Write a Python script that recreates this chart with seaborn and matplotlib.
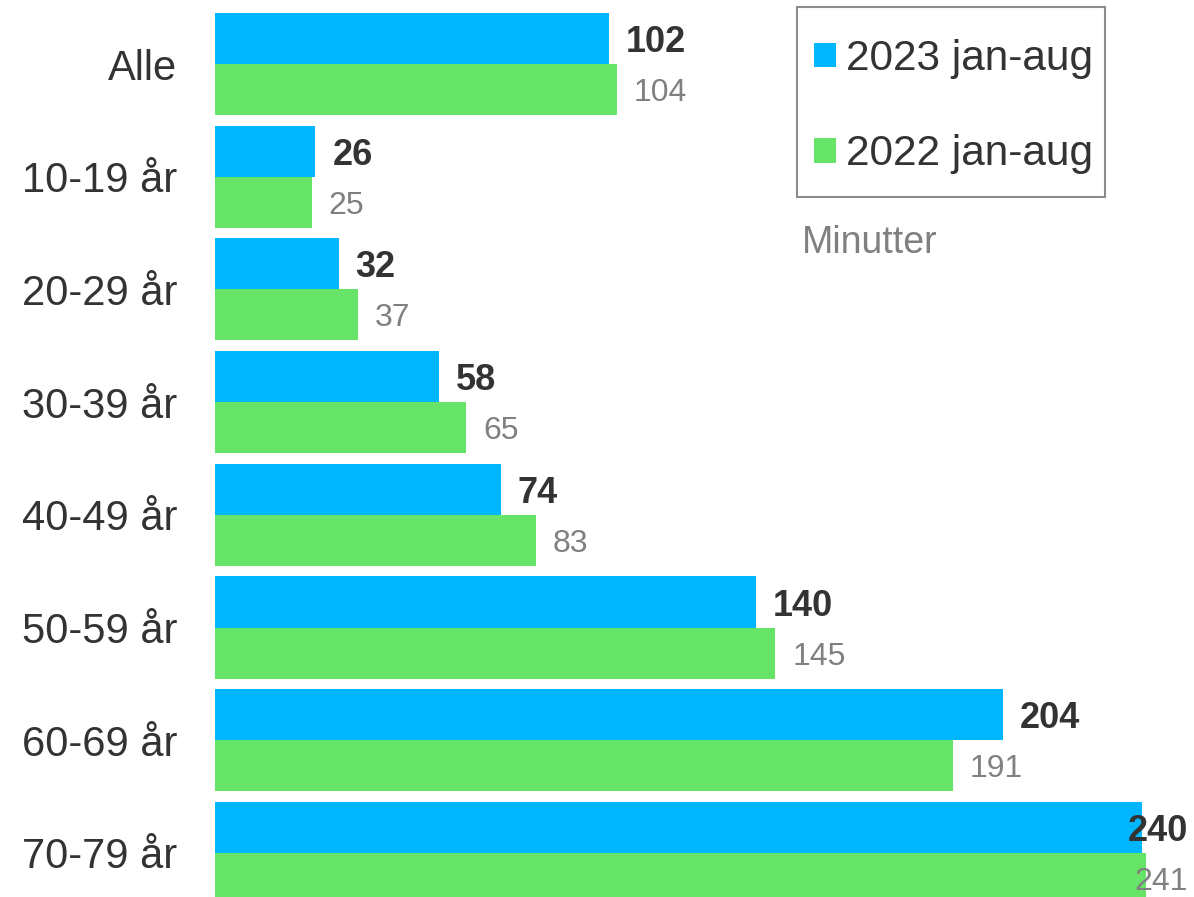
import matplotlib
matplotlib.use("Agg")
import matplotlib.pyplot as plt
import matplotlib.transforms as mtransforms
from matplotlib.patches import Patch, Rectangle
import seaborn as sns
import pandas as pd

# Age groups and average minutes per period
categories = ["Alle", "10-19 år", "20-29 år", "30-39 år", "40-49 år",
              "50-59 år", "60-69 år", "70-79 år"]
values_2023 = [102, 26, 32, 58, 74, 140, 204, 240]
values_2022 = [104, 25, 37, 65, 83, 145, 191, 241]
series_names = ["2023 jan-aug", "2022 jan-aug"]
unit_label = "Minutter"

BLUE = "#00B6FF"
GREEN = "#66E467"
DARK = "#333333"
GREY = "#808080"

df = pd.DataFrame({
    "Gruppe": categories * 2,
    "Minutter": values_2023 + values_2022,
    "Periode": [series_names[0]] * len(categories) + [series_names[1]] * len(categories),
})

sns.set_style("white")
plt.rcParams["font.family"] = ["Liberation Sans", "DejaVu Sans"]

W, H = 1194, 897
fig = plt.figure(figsize=(W / 100, H / 100), dpi=100)
ax = fig.add_axes([215 / W, 0, (W - 215) / W, 1])

sns.barplot(data=df, y="Gruppe", x="Minutter", hue="Periode",
            order=categories, hue_order=series_names,
            palette=[BLUE, GREEN], orient="h", width=0.906,
            saturation=1, linewidth=0, legend=False, ax=ax)

xmax = 253.4
ax.set_xlim(0, xmax)
ax.set_ylim(7.391, -0.568)

for s in ax.spines.values():
    s.set_visible(False)
ax.set_xticks([])
ax.set_xlabel("")
ax.set_ylabel("")
ax.tick_params(axis="y", length=0, pad=27, labelsize=30, labelcolor=DARK)

# Value labels next to each bar, kept inside the figure on the right
renderer = fig.canvas.get_renderer()
right_shift = mtransforms.offset_copy(ax.transData, fig=fig, x=-6, y=0, units="dots")
for cont, style in zip(ax.containers,
                       [dict(fontsize=26, fontweight="bold", color=DARK),
                        dict(fontsize=23, color=GREY)]):
    for bar in cont:
        v = bar.get_width()
        yc = bar.get_y() + bar.get_height() / 2
        t = ax.text(v + 4.4, yc, f"{v:.0f}", ha="left", va="center_baseline", **style)
        bb = t.get_window_extent(renderer)
        if bb.x1 > W - 4:
            t.remove()
            ax.text(xmax, yc, f"{v:.0f}", ha="right", va="center_baseline",
                    transform=right_shift, **style)

# Legend with a plain rectangular frame
handles = [Patch(facecolor=BLUE, edgecolor="none"),
           Patch(facecolor=GREEN, edgecolor="none")]
leg = fig.legend(handles, series_names, loc="upper left",
                 bbox_to_anchor=(814 / W, 1 - 39 / H),
                 fontsize=30.5, labelcolor=DARK, frameon=False,
                 handlelength=0.53, handleheight=0.53, handletextpad=0.22,
                 labelspacing=1.3, borderpad=0, borderaxespad=0)
fig.patches.append(Rectangle((797 / W, 1 - 197 / H), (1105 - 797) / W, 190 / H,
                             transform=fig.transFigure, facecolor="none",
                             edgecolor="#8C8C8C", linewidth=1.5, zorder=0))

fig.text(802 / W, 1 - 243 / H, unit_label, ha="left", va="center",
         fontsize=27, color=GREY)

fig.savefig("out.png", dpi=100)
